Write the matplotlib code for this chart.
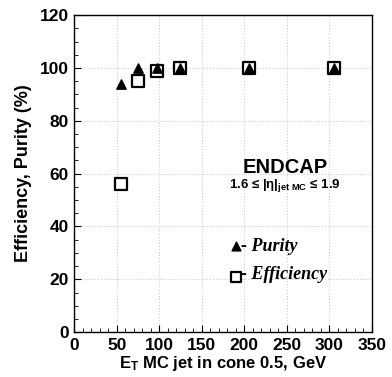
import matplotlib
matplotlib.use("Agg")
import matplotlib.pyplot as plt
from matplotlib.ticker import MultipleLocator

plt.rcParams['mathtext.fontset'] = 'custom'
plt.rcParams['mathtext.rm'] = 'Liberation Sans:bold'
plt.rcParams['mathtext.it'] = 'Liberation Sans:italic:bold'
plt.rcParams['mathtext.bf'] = 'Liberation Sans:bold'

et = [55, 75, 97, 125, 205, 305]
purity = [94, 100, 100, 100, 100, 100]
efficiency = [56, 95, 99, 100, 100, 100]

fig = plt.figure(figsize=(3.92, 3.77), dpi=100)
ax = fig.add_axes([0.189, 0.119, 0.760, 0.841])
ax.set_xlim(0, 350)
ax.set_ylim(0, 120)
ax.xaxis.set_major_locator(MultipleLocator(50))
ax.xaxis.set_minor_locator(MultipleLocator(10))
ax.yaxis.set_major_locator(MultipleLocator(20))
ax.yaxis.set_minor_locator(MultipleLocator(5))
ax.grid(True, which='major', color='#cccccc', linestyle=':', linewidth=0.8)
ax.tick_params(which='both', direction='in', top=False, right=False)
ax.tick_params(which='major', length=5, width=0.8, pad=4)
ax.tick_params(which='minor', length=3, width=0.6)
for s in ax.spines.values():
    s.set_linewidth(1.0)

ax.scatter(et, efficiency, marker='s', s=70, facecolors='white', edgecolors='black', linewidths=1.6, zorder=3)
ax.scatter(et, purity, marker='^', s=45, color='black', zorder=4)

for lab in ax.get_xticklabels() + ax.get_yticklabels():
    lab.set_fontfamily('Liberation Sans')
    lab.set_fontweight('bold')
    lab.set_fontsize(12.5)

ax.set_xlabel(r'E$_\mathregular{T}$ MC jet in cone 0.5, GeV', fontfamily='Liberation Sans', fontweight='bold', fontsize=12, labelpad=1)
ax.set_ylabel('Efficiency, Purity (%)', fontfamily='Liberation Sans', fontweight='bold', fontsize=13, labelpad=5)

ax.text(248, 62.5, 'ENDCAP', ha='center', va='center', fontfamily='Liberation Sans', fontweight='bold', fontsize=14.5)
ax.text(248, 55.5, '1.6 \u2264 |\u03b7|$_\\mathregular{jet\\ MC}$ \u2264 1.9', ha='center', va='center',
        fontfamily=['Liberation Sans', 'DejaVu Sans'], fontweight='bold', fontsize=9.5)

ax.scatter([190], [32.5], marker='^', s=40, color='black', zorder=4)
ax.scatter([190], [21], marker='s', s=50, facecolors='white', edgecolors='black', linewidths=1.6, zorder=4)
ax.text(196, 32.5, '- Purity', ha='left', va='center', fontfamily='Liberation Serif', fontstyle='italic', fontweight='bold', fontsize=13)
ax.text(196, 22, '- Efficiency', ha='left', va='center', fontfamily='Liberation Serif', fontstyle='italic', fontweight='bold', fontsize=13)

fig.savefig('out.png', dpi=100)
